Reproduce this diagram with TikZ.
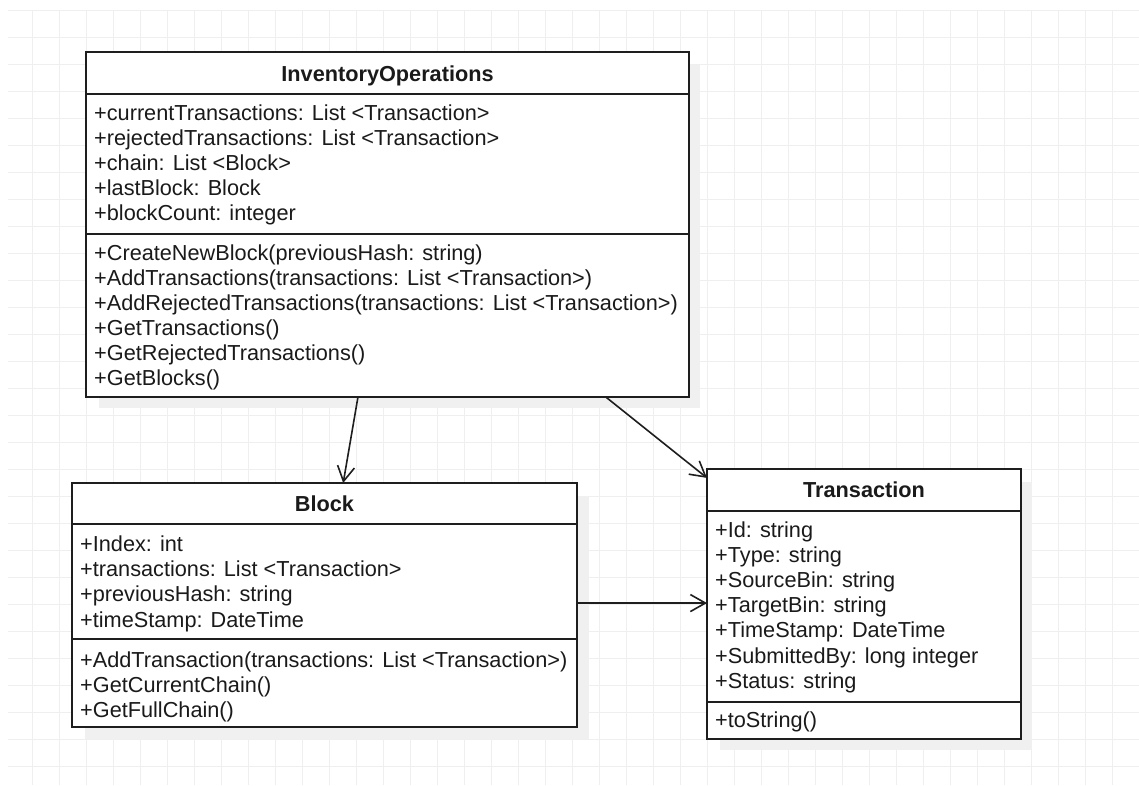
\documentclass[tikz,border=0pt]{standalone}
\usepackage{fontspec}
\setmainfont{Liberation Sans}
\usetikzlibrary{arrows.meta,calc}
\definecolor{gridc}{HTML}{EFEFEF}
\definecolor{shadowc}{HTML}{F0F0F0}
\definecolor{linec}{HTML}{1E1E1E}
\definecolor{textc}{HTML}{1A1A1A}
\tikzset{
 umlbox/.style={draw=linec, line width=1.8pt, fill=white, anchor=north west, inner sep=0pt, outer sep=0pt},
 member/.style={anchor=base west, inner sep=0pt, font=\fontsize{21.7}{25}\selectfont, text=textc},
 classtitle/.style={anchor=base, inner sep=0pt, font=\fontsize{21.7}{25}\selectfont\bfseries, text=textc},
 divider/.style={draw=linec, line width=1.8pt},
 assoc/.style={draw=linec, line width=1.6pt, -{Straight Barb[length=15pt,width=17pt]}},
 gridline/.style={draw=gridc, line width=1pt},
}
\begin{document}
\begin{tikzpicture}[x=1pt,y=-1pt]
\useasboundingbox (0,0) rectangle (1139,785);
\fill[white] (0,0) rectangle (1139,785);
% grid
\begin{scope}
\clip (8,10.7) rectangle (1139,785);
\foreach \k in {0,...,42} \draw[gridline] ({5.3+27*\k},0) -- ({5.3+27*\k},785);
\foreach \k in {0,...,29} \draw[gridline] (0,{10.7+27*\k}) -- (1139,{10.7+27*\k});
\end{scope}
% shadows
\fill[shadowc] (99,65) rectangle (700,408);
\fill[shadowc] (85,496) rectangle (589,739);
\fill[shadowc] (720,482) rectangle (1032,750);
% boxes
\node[umlbox, minimum width=603pt, minimum height=345pt] (io) at (86,52) {};
\node[umlbox, minimum width=505pt, minimum height=244pt] (blk) at (72,483) {};
\node[umlbox, minimum width=314pt, minimum height=270pt] (trans) at (707,469) {};
% dividers
\draw[divider] (io.west |- 0,94) -- (io.east |- 0,94);
\draw[divider] (io.west |- 0,234) -- (io.east |- 0,234);
\draw[divider] (blk.west |- 0,524) -- (blk.east |- 0,524);
\draw[divider] (blk.west |- 0,639) -- (blk.east |- 0,639);
\draw[divider] (trans.west |- 0,511) -- (trans.east |- 0,511);
\draw[divider] (trans.west |- 0,702) -- (trans.east |- 0,702);
% titles
\node[classtitle] (io-title) at ($(io.north)+(0,29.5)$) {InventoryOperations};
\node[classtitle] (blk-title) at ($(blk.north)+(0,28.5)$) {Block};
\node[classtitle] (trans-title) at ($(trans.north)+(0,28.8)$) {Transaction};
% members
\foreach \t [count=\i from 0] in {+currentTransactions: List <Transaction>,+rejectedTransactions: List <Transaction>,+chain: List <Block>,+lastBlock: Block,+blockCount: integer}
  \node[member] (io-attr-\i) at (94,{120+25*\i}) {\t};
\foreach \t [count=\i from 0] in {+CreateNewBlock(previousHash: string),+AddTransactions(transactions: List <Transaction>),+AddRejectedTransactions(transactions: List <Transaction>),+GetTransactions(),+GetRejectedTransactions(),+GetBlocks()}
  \node[member] (io-op-\i) at (94,{260+25*\i}) {\t};
\foreach \t [count=\i from 0] in {+Index: int,+transactions: List <Transaction>,+previousHash: string,+timeStamp: DateTime}
  \node[member] (blk-attr-\i) at (80,{551.5+25.2*\i}) {\t};
\foreach \t [count=\i from 0] in {+AddTransaction(transactions: List <Transaction>),+GetCurrentChain(),+GetFullChain()}
  \node[member] (blk-op-\i) at (80,{667+25*\i}) {\t};
\foreach \t [count=\i from 0] in {+Id: string,+Type: string,+SourceBin: string,+TargetBin: string,+TimeStamp: DateTime,+SubmittedBy: long integer,+Status: string}
  \node[member] (trans-attr-\i) at (715,{537.5+25.1*\i}) {\t};
\node[member] (trans-op-0) at (715,727.5) {+toString()};
% associations
\draw[assoc] ($(io.south west)!0.451!(io.south east)$) -- ($(blk.north west)!0.537!(blk.north east)$);
\draw[assoc] ($(io.south west)!0.862!(io.south east)$) -- ($(trans.north west)!0.033!(trans.south west)$);
\coordinate (bt) at ($(blk.north east)!0.492!(blk.south east)$);
\draw[assoc] (bt) -- (bt -| trans.west);
\end{tikzpicture}
\end{document}
